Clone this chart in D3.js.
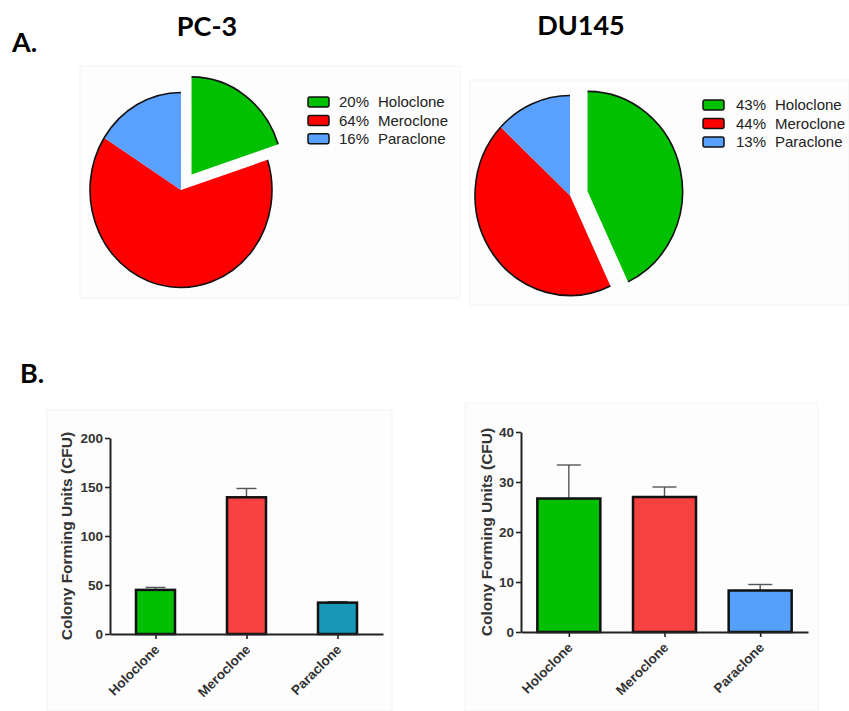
<!DOCTYPE html>
<html>
<head>
<meta charset="utf-8">
<script src="https://cdn.jsdelivr.net/npm/d3@7"></script>
<style>
  body { margin: 0; background: #fff; }
  svg text { font-family: "Liberation Sans", Arial, sans-serif; }
</style>
</head>
<body>
<svg id="fig" width="849" height="711"></svg>
<script>
// Clone types and their values for the two prostate cancer cell lines
const categories = ["Holoclone", "Meroclone", "Paraclone"];

// Panel A: share of each clone type (%)
const pc3Share = [20, 64, 16];
const du145Share = [43, 44, 13];

// Panel B: colony forming units (mean and error)
const pc3Cfu = [45, 139.5, 32];
const pc3Err = [2.5, 9, 1];
const du145Cfu = [26.7, 27.0, 8.3];
const du145Err = [6.7, 2.0, 1.2];

// Axis ticks
const pc3Ticks = [0, 50, 100, 150, 200];
const du145Ticks = [0, 10, 20, 30, 40];

// Colours
const pieColors = ["#00c000", "#ff0000", "#5aa0ff"];
const pc3BarColors = ["#00bf00", "#f84242", "#1797b5"];
const du145BarColors = ["#00bf00", "#f84242", "#55a0fa"];

const svg = d3.select("#fig");
svg.append("rect").attr("width", 849).attr("height", 711).attr("fill", "#fff");

// faint panel backgrounds behind each plot
const panels = [
  [80, 66, 380, 232],
  [470, 80, 379, 225],
  [47, 410, 345, 301],
  [465, 403, 353, 308]
];
svg.selectAll("rect.panel").data(panels).join("rect")
  .attr("class", "panel")
  .attr("x", d => d[0]).attr("y", d => d[1])
  .attr("width", d => d[2]).attr("height", d => d[3])
  .attr("fill", "#fdfdfd").attr("stroke", "#f3f3f3").attr("stroke-width", 1);

// Headings
const heading = (txt, x, y, anchor) => svg.append("text")
  .attr("x", x).attr("y", y).attr("text-anchor", anchor || "start")
  .style("font-family", "Lato, 'Open Sans', sans-serif")
  .style("font-weight", "700").style("font-size", "27px").attr("fill", "#000")
  .text(txt);
heading("A.", 12, 52);
heading("PC-3", 207, 36, "middle");
heading("DU145", 581, 35, "middle");
heading("B.", 20, 383);

// ---- Pie charts ----
function drawPie(o) {
  const g = svg.append("g")
    .attr("transform", `translate(${o.cx},${o.cy}) scale(1,${o.ry / o.rx})`);
  const arcs = d3.pie().sort(null).value(d => d)(o.values);
  const arc = d3.arc().innerRadius(0).outerRadius(o.rx);
  const shift = (d, i) => {
    if (i !== o.explodeIndex) return null;
    const a = (d.startAngle + d.endAngle) / 2;
    return `translate(${Math.sin(a) * o.explode},${-Math.cos(a) * o.explode})`;
  };
  const slices = g.selectAll("g.slice").data(arcs).join("g")
    .attr("class", "slice").attr("transform", shift);
  slices.append("path").attr("d", arc).attr("fill", (d, i) => pieColors[i]);
  // outline only along the rim
  slices.append("path")
    .attr("d", d => {
      const p = d3.path();
      p.arc(0, 0, o.rx, d.startAngle - Math.PI / 2, d.endAngle - Math.PI / 2);
      return p.toString();
    })
    .attr("fill", "none").attr("stroke", "#111").attr("stroke-width", 1.6)
    .attr("vector-effect", "non-scaling-stroke");

  // legend
  const lg = svg.append("g").attr("transform", `translate(${o.lx},${o.ly})`);
  const rows = lg.selectAll("g").data(o.values).join("g")
    .attr("transform", (d, i) => `translate(0,${i * o.rowH})`);
  rows.append("rect").attr("x", 0).attr("y", -5).attr("width", 21).attr("height", 10)
    .attr("rx", 2).attr("fill", (d, i) => pieColors[i])
    .attr("stroke", "#111").attr("stroke-width", 1.5);
  rows.append("text").attr("x", o.pctX).attr("y", 0).attr("dy", "0.36em")
    .style("font-size", "15px").attr("fill", "#222").text(d => d + "%");
  rows.append("text").attr("x", o.nameX).attr("y", 0).attr("dy", "0.36em")
    .style("font-size", "15px").attr("fill", "#222").text((d, i) => categories[i]);
}

drawPie({ values: pc3Share, cx: 181, cy: 190, rx: 91, ry: 97.5, explode: 18, explodeIndex: 0,
  lx: 308, ly: 102, rowH: 18.4, pctX: 31, nameX: 70 });
drawPie({ values: du145Share, cx: 570, cy: 195.5, rx: 95, ry: 100, explode: 18, explodeIndex: 0,
  lx: 703, ly: 105, rowH: 18.5, pctX: 33, nameX: 72 });

// ---- Bar charts ----
function drawBars(o) {
  const g = svg.append("g");
  const x = d3.scalePoint().domain(categories).range(o.xRange).padding(0.5);
  const y = d3.scaleLinear().domain([0, o.ticks[o.ticks.length - 1]]).range(o.yRange);

  // error bars (upper only)
  const err = g.append("g").attr("stroke", "#555").attr("stroke-width", 1.4);
  categories.forEach((c, i) => {
    const cx = x(c);
    err.append("line").attr("x1", cx).attr("x2", cx)
      .attr("y1", y(o.values[i])).attr("y2", y(o.values[i] + o.errors[i]));
    err.append("line").attr("x1", cx - o.cap / 2).attr("x2", cx + o.cap / 2)
      .attr("y1", y(o.values[i] + o.errors[i])).attr("y2", y(o.values[i] + o.errors[i]));
  });

  g.selectAll("rect.bar").data(o.values).join("rect")
    .attr("class", "bar")
    .attr("x", (d, i) => x(categories[i]) - o.barW / 2)
    .attr("width", o.barW)
    .attr("y", d => y(d))
    .attr("height", d => y(0) - y(d))
    .attr("fill", (d, i) => o.colors[i])
    .attr("stroke", "#111").attr("stroke-width", 2.5);

  const yAxis = g.append("g").attr("transform", `translate(${o.xRange[0]},0)`)
    .call(d3.axisLeft(y).tickValues(o.ticks).tickSize(5).tickSizeOuter(0).tickPadding(2));
  const xAxis = g.append("g").attr("transform", `translate(0,${y(0)})`)
    .call(d3.axisBottom(x).tickSize(5).tickSizeOuter(0));

  [yAxis, xAxis].forEach(a => {
    a.select(".domain").attr("stroke", "#222").attr("stroke-width", 2);
    a.selectAll(".tick line").attr("stroke", "#222").attr("stroke-width", 1.6);
    a.selectAll("text").attr("fill", "#333")
      .style("font-size", "13.5px").style("font-weight", "700");
  });
  xAxis.selectAll("text")
    .attr("x", 0).attr("y", 0).attr("dy", "0.35em")
    .attr("text-anchor", "end")
    .attr("transform", "translate(1,13) rotate(-45)");

  g.append("text")
    .attr("transform", `translate(${o.titleX},${(o.yRange[0] + o.yRange[1]) / 2}) rotate(-90)`)
    .attr("text-anchor", "middle").attr("dy", "0.35em")
    .style("font-size", "15.5px").style("font-weight", "700").attr("fill", "#333")
    .text("Colony Forming Units (CFU)");
}

drawBars({ values: pc3Cfu, errors: pc3Err, ticks: pc3Ticks, colors: pc3BarColors,
  xRange: [110, 383], yRange: [634, 438], barW: 39, cap: 20, titleX: 67 });
drawBars({ values: du145Cfu, errors: du145Err, ticks: du145Ticks, colors: du145BarColors,
  xRange: [521, 808], yRange: [632, 432], barW: 63, cap: 24, titleX: 487 });
</script>
</body>
</html>
